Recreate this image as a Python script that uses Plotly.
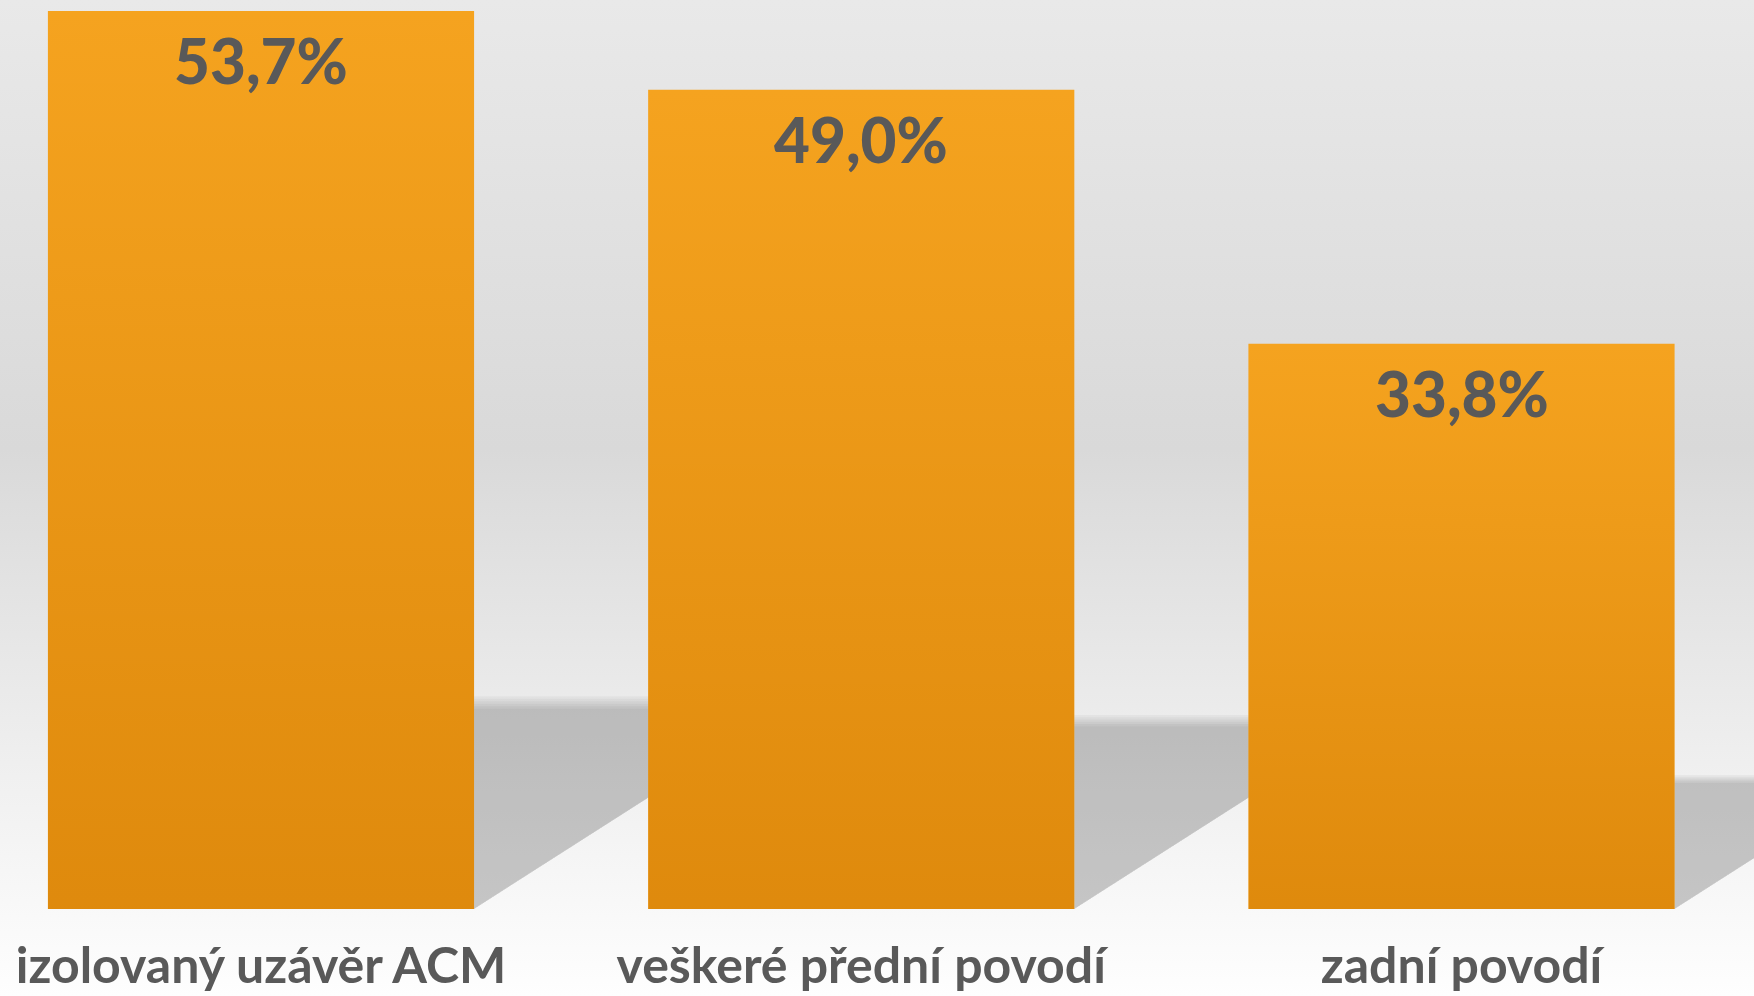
import base64
import plotly.graph_objects as go

# ---- data ----
categories = ["izolovaný uzávěr ACM", "veškeré přední povodí", "zadní povodí"]
values = [53.7, 49.0, 33.8]
value_labels = ["53,7%", "49,0%", "33,8%"]

# ---- style ----
TEXT_COLOR = "#595959"
FONT = "Lato, 'Open Sans', sans-serif"
BAR_TOP = "#f5a31f"
W, H = 1754, 996
MB = 87
Y_MAX = 54.36
X_RANGE = [-0.4348, 2.4873]
BAR_W = 0.71

def svg_uri(svg):
    return "data:image/svg+xml;base64," + base64.b64encode(svg.encode()).decode()

bg_svg = (
    '<svg xmlns="http://www.w3.org/2000/svg" width="100" height="100" preserveAspectRatio="none">'
    '<defs><linearGradient id="g" x1="0" y1="0" x2="0" y2="1">'
    '<stop offset="0" stop-color="#e9e9e9"/>'
    '<stop offset="0.45" stop-color="#d9d9d9"/>'
    '<stop offset="0.78" stop-color="#f0f0f0"/>'
    '<stop offset="1" stop-color="#fefefe"/>'
    '</linearGradient></defs><rect width="100" height="100" fill="url(#g)"/></svg>'
)
bar_shade_svg = (
    '<svg xmlns="http://www.w3.org/2000/svg" width="10" height="100" preserveAspectRatio="none">'
    '<defs><linearGradient id="b" x1="0" y1="0" x2="0" y2="1">'
    '<stop offset="0" stop-color="rgb(208,121,0)" stop-opacity="0"/>'
    '<stop offset="1" stop-color="rgb(208,121,0)" stop-opacity="0.6"/>'
    '</linearGradient></defs><rect width="10" height="100" fill="url(#b)"/></svg>'
)

fig = go.Figure()
fig.add_trace(go.Bar(
    x=list(range(len(categories))), y=values, width=BAR_W,
    marker=dict(color=BAR_TOP, line=dict(width=0)),
    hoverinfo="skip", showlegend=False,
))

images = [dict(source=svg_uri(bg_svg), xref="paper", yref="paper", x=0, y=1,
               sizex=1, sizey=H / (H - MB), sizing="stretch", layer="below",
               xanchor="left", yanchor="top")]
shapes = []
SH_H = 0.23          # shadow height relative to bar
SH_DX = 0.01003      # horizontal shift per unit value
for i, v in enumerate(values):
    images.append(dict(source=svg_uri(bar_shade_svg), xref="x", yref="y",
                       x=i - BAR_W / 2, y=v, sizex=BAR_W, sizey=v,
                       sizing="stretch", layer="above",
                       xanchor="left", yanchor="top"))
    n = 6
    for k in range(n):
        f = 1 + (k - (n - 1) / 2) * 0.012
        hh = SH_H * v * f
        dx = SH_DX * v * f
        x0, x1 = i - BAR_W / 2, i + BAR_W / 2
        path = (f"M {x0},0 L {x1},0 L {x1 + dx},{hh} L {x0 + dx},{hh} Z")
        shapes.append(dict(type="path", path=path, xref="x", yref="y",
                           fillcolor="rgba(0,0,0,0.034)", line=dict(width=0),
                           layer="below"))

annotations = []
for i, (v, t) in enumerate(zip(values, value_labels)):
    annotations.append(dict(x=i, y=v, xref="x", yref="y", text=t, showarrow=False,
                            yanchor="middle", yshift=-49,
                            font=dict(family=FONT, size=62, color=TEXT_COLOR, weight=900)))

fig.update_layout(
    width=W, height=H,
    margin=dict(l=0, r=0, t=0, b=MB),
    paper_bgcolor="#fdfdfd", plot_bgcolor="rgba(0,0,0,0)",
    bargap=0.29,
    images=images, shapes=shapes, annotations=annotations,
    xaxis=dict(range=X_RANGE, tickvals=list(range(len(categories))), ticktext=categories,
               showgrid=False, zeroline=False, showline=False, ticks="",
               ticklabelstandoff=23,
               tickfont=dict(family=FONT, size=50, color=TEXT_COLOR, weight="bold"),
               fixedrange=True),
    yaxis=dict(range=[0, Y_MAX], visible=False, showgrid=False, zeroline=False,
               fixedrange=True),
    showlegend=False,
)

fig.write_html("out.html", config=dict(displayModeBar=False),
               post_script="document.body.style.margin='0';document.body.style.padding='0';")
